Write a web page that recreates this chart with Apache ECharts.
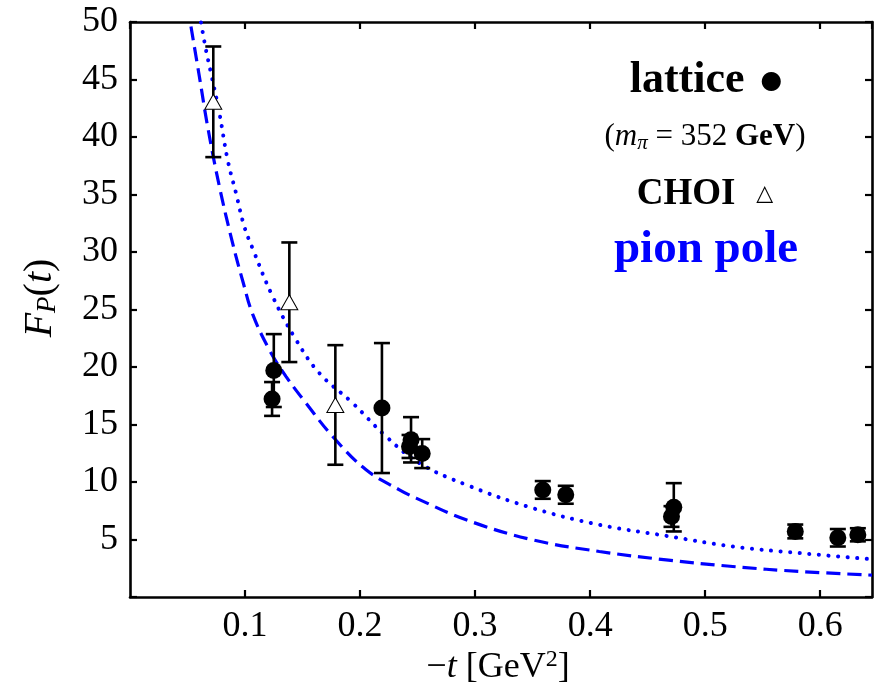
<!DOCTYPE html>
<html>
<head>
<meta charset="utf-8">
<script src="https://cdn.jsdelivr.net/npm/echarts@6/dist/echarts.min.js"></script>
<style>html,body{margin:0;padding:0;background:#fff}#c{width:876px;height:693px}</style>
</head>
<body>
<div id="c"></div>
<script>
// ---- data ----
var latticeX   = [0.1235, 0.125, 0.219, 0.2443, 0.243, 0.254, 0.3588, 0.3788, 0.4727, 0.4707, 0.5783, 0.6153, 0.6327];
var latticeY   = [17.22, 19.69, 16.43, 13.67, 13.09, 12.47, 9.31, 8.89, 7.80, 7.00, 5.70, 5.15, 5.41];
var latticeErr = [1.47, 3.17, 5.65, 1.97, 1.00, 1.26, 0.77, 0.78, 2.10, 0.90, 0.60, 0.76, 0.57];

var choiX   = [0.0724, 0.1385, 0.1785];
var choiY   = [43.06, 25.63, 16.70];
var choiErr = [4.81, 5.20, 5.20];

// pion pole curves
var dashedX = [0.053, 0.0603, 0.0675, 0.0777, 0.0892, 0.0985, 0.1066, 0.1211, 0.1357, 0.153, 0.1762, 0.2052, 0.2342, 0.2487, 0.2922, 0.35, 0.408, 0.466, 0.524, 0.582, 0.645];
var dashedY = [49.6, 45.26, 40.9, 35.7, 30.77, 27.3, 24.6, 21.5, 19.17, 16.86, 13.96, 11.06, 9.32, 8.6, 6.71, 4.97, 3.96, 3.23, 2.65, 2.22, 1.9];
var dottedX = [0.0617, 0.066, 0.0704, 0.0777, 0.0849, 0.0922, 0.0994, 0.1066, 0.124, 0.1443, 0.1646, 0.1936, 0.2226, 0.2516, 0.2922, 0.35, 0.408, 0.466, 0.524, 0.582, 0.645];
var dottedY = [49.96, 47.6, 45.56, 42.08, 38.0, 35.1, 32.2, 30.3, 26.13, 22.37, 19.47, 16.86, 13.96, 11.64, 9.76, 7.73, 6.28, 5.32, 4.39, 3.82, 3.28];

var xTickVals   = [0.1, 0.2, 0.3, 0.4, 0.5, 0.6];
var xTickLabels = ['0.1', '0.2', '0.3', '0.4', '0.5', '0.6'];
var yTickVals   = [5, 10, 15, 20, 25, 30, 35, 40, 45, 50];
var yTickLabels = ['5', '10', '15', '20', '25', '30', '35', '40', '45', '50'];

// ---- build ----
function zip3(a, b, c) { return a.map(function (v, i) { return c ? [v, b[i], c[i]] : [v, b[i]]; }); }
var SERIF = '"Liberation Serif", "DejaVu Serif", serif';
var BLUE = '#0000ff';

function labelFor(vals, labels) {
  return function (v) {
    for (var i = 0; i < vals.length; i++) if (Math.abs(vals[i] - v) < 1e-6) return labels[i];
    return '';
  };
}

function errRender(params, api) {
  var x = api.value(0), y = api.value(1), e = api.value(2);
  var top = api.coord([x, y + e]);
  var bot = api.coord([x, y - e]);
  var h = 8;
  var st = { stroke: '#000', lineWidth: 2.6 };
  return {
    type: 'group',
    children: [
      { type: 'line', shape: { x1: top[0], y1: top[1], x2: bot[0], y2: bot[1] }, style: st },
      { type: 'line', shape: { x1: top[0] - h, y1: top[1], x2: top[0] + h, y2: top[1] }, style: st },
      { type: 'line', shape: { x1: bot[0] - h, y1: bot[1], x2: bot[0] + h, y2: bot[1] }, style: st }
    ]
  };
}

var axisLine = { show: true, onZero: false, lineStyle: { color: '#000', width: 2.6 } };
var axisTick = { show: true, inside: true, length: 7, lineStyle: { color: '#000', width: 2.2 } };
var tickFont = { margin: 12, fontFamily: SERIF, fontSize: 36, fontWeight: 'normal', color: '#000' };

var chart = echarts.init(document.getElementById('c'), null, { renderer: 'canvas' });
chart.setOption({
  animation: false,
  backgroundColor: '#fff',
  textStyle: { fontFamily: SERIF, color: '#000' },
  grid: { left: 130, right: 4, top: 22, bottom: 96, containLabel: false },
  xAxis: [
    { type: 'value', min: 0, max: 0.645, interval: 0.1, position: 'bottom',
      axisLine: axisLine, axisTick: axisTick, splitLine: { show: false },
      axisLabel: Object.assign({ formatter: labelFor(xTickVals, xTickLabels), showMaxLabel: false, showMinLabel: false }, tickFont) },
    { type: 'value', min: 0, max: 0.645, interval: 0.1, position: 'top',
      axisLine: axisLine, axisTick: axisTick, splitLine: { show: false }, axisLabel: { show: false } }
  ],
  yAxis: [
    { type: 'value', min: 0, max: 50, interval: 5, position: 'left',
      axisLine: axisLine, axisTick: axisTick, splitLine: { show: false },
      axisLabel: Object.assign({ formatter: labelFor(yTickVals, yTickLabels) }, tickFont) },
    { type: 'value', min: 0, max: 50, interval: 5, position: 'right',
      axisLine: axisLine, axisTick: axisTick, splitLine: { show: false }, axisLabel: { show: false } }
  ],
  series: [
    { type: 'line', data: zip3(dashedX, dashedY), smooth: 0.4, showSymbol: false, clip: true, z: 2,
      lineStyle: { color: BLUE, width: 3.2, type: [14, 7] } },
    { type: 'line', data: zip3(dottedX, dottedY), smooth: 0.4, showSymbol: false, clip: true, z: 2,
      lineStyle: { color: BLUE, width: 4, type: [0.1, 9.5], cap: 'round' } },
    { type: 'custom', renderItem: errRender, data: zip3(latticeX, latticeY, latticeErr), z: 3, clip: true },
    { type: 'custom', renderItem: errRender, data: zip3(choiX, choiY, choiErr), z: 3, clip: true },
    { type: 'scatter', data: zip3(latticeX, latticeY), symbol: 'circle', symbolSize: 17, z: 4,
      itemStyle: { color: '#000', opacity: 1 } },
    { type: 'scatter', data: zip3(choiX, choiY), symbol: 'triangle', symbolSize: [17, 15], z: 4,
      itemStyle: { color: '#fff', borderColor: '#000', borderWidth: 1, opacity: 1 } }
  ],
  graphic: [
    { type: 'text', x: 498, y: 668, style: {
        text: '{n|\u2212}{i|t}{n| [GeV}{sup|2}{n|]}', align: 'center', verticalAlign: 'middle',
        rich: {
          n: { fontFamily: SERIF, fontSize: 36, fill: '#000' },
          i: { fontFamily: SERIF, fontSize: 36, fontStyle: 'italic', fill: '#000' },
          sup: { fontFamily: SERIF, fontSize: 24, fill: '#000', verticalAlign: 'top', padding: [0, 0, 16, 0] }
        } } },
    { type: 'text', x: 40, y: 298, rotation: Math.PI / 2, style: {
        text: '{i|F}{sub|P}{n|(}{i|t}{n|)}', align: 'center', verticalAlign: 'middle',
        rich: {
          n: { fontFamily: SERIF, fontSize: 40, fill: '#000' },
          i: { fontFamily: SERIF, fontSize: 40, fontStyle: 'italic', fill: '#000' },
          sub: { fontFamily: SERIF, fontSize: 27, fontStyle: 'italic', fill: '#000', padding: [16, 0, 0, 0] }
        } } },
    { type: 'text', x: 706, y: 81, style: {
        text: '{b|lattice}{g|  \u25CF}', align: 'center', verticalAlign: 'middle',
        rich: {
          b: { fontFamily: SERIF, fontSize: 44, fontWeight: 'bold', fill: '#000' },
          g: { fontFamily: 'DejaVu Sans', fontSize: 25, fill: '#000' }
        } } },
    { type: 'text', x: 705, y: 137, style: {
        text: '{n|(}{i|m}{s|\u03C0}{n| = 352 }{b|GeV}{n|)}', align: 'center', verticalAlign: 'middle',
        rich: {
          n: { fontFamily: SERIF, fontSize: 31, fill: '#000' },
          i: { fontFamily: SERIF, fontSize: 31, fontStyle: 'italic', fill: '#000' },
          s: { fontFamily: SERIF, fontSize: 21, fontStyle: 'italic', fill: '#000', padding: [13, 0, 0, 0] },
          b: { fontFamily: SERIF, fontSize: 31, fontWeight: 'bold', fill: '#000' }
        } } },
    { type: 'text', x: 705, y: 194, style: {
        text: '{b|CHOI}{g|   \u25B3}', align: 'center', verticalAlign: 'middle',
        rich: {
          b: { fontFamily: SERIF, fontSize: 37, fontWeight: 'bold', fill: '#000' },
          g: { fontFamily: 'DejaVu Sans', fontSize: 22, fill: '#000' }
        } } },
    { type: 'text', x: 706, y: 250, style: {
        text: 'pion pole', align: 'center', verticalAlign: 'middle',
        fontFamily: SERIF, fontSize: 47, fontWeight: 'bold', fill: BLUE } }
  ]
});
</script>
</body>
</html>
